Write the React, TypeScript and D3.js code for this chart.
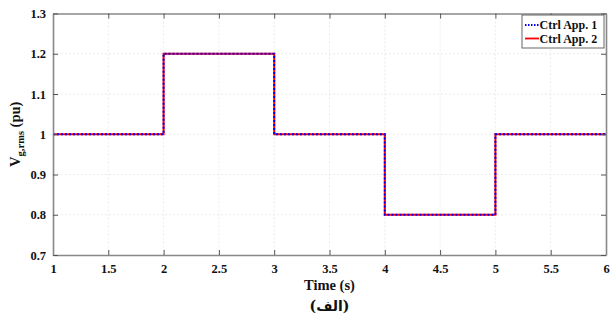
import React, { useEffect, useRef } from 'react';
import * as d3 from 'd3';

const timeValues = [1, 2, 2, 3, 3, 4, 4, 5, 5, 6];
const app1Values = [1, 1, 1.2, 1.2, 1, 1, 0.8, 0.8, 1, 1];
const app2Values = [1, 1, 1.2, 1.2, 1, 1, 0.8, 0.8, 1, 1];
const xTicks = [1, 1.5, 2, 2.5, 3, 3.5, 4, 4.5, 5, 5.5, 6];
const yTicks = [0.7, 0.8, 0.9, 1, 1.1, 1.2, 1.3];
const seriesNames = ['Ctrl App. 1', 'Ctrl App. 2'];

const App: React.FC = () => {
  const svgRef = useRef<SVGSVGElement | null>(null);

  useEffect(() => {
    if (!svgRef.current) return;
    const width = 614;
    const height = 333;
    const margin = { top: 13.5, right: 8, bottom: 78, left: 53 };
    const innerWidth = width - margin.left - margin.right;
    const innerHeight = height - margin.top - margin.bottom;

    const svg = d3.select(svgRef.current);
    svg.selectAll('*').remove();

    const x = d3.scaleLinear().domain([1, 6]).range([0, innerWidth]);
    const y = d3.scaleLinear().domain([0.7, 1.3]).range([innerHeight, 0]);

    const g = svg.append('g').attr('transform', `translate(${margin.left},${margin.top})`);
    const font = '"Liberation Serif", "Times New Roman", serif';

    // grid
    g.append('g')
      .selectAll('line')
      .data(xTicks.slice(1, -1))
      .join('line')
      .attr('x1', (d) => x(d)).attr('x2', (d) => x(d))
      .attr('y1', 0).attr('y2', innerHeight)
      .attr('stroke', '#e6e6e6').attr('stroke-width', 0.8).attr('stroke-dasharray', '2,2');
    g.append('g')
      .selectAll('line')
      .data(yTicks.slice(1, -1))
      .join('line')
      .attr('y1', (d) => y(d)).attr('y2', (d) => y(d))
      .attr('x1', 0).attr('x2', innerWidth)
      .attr('stroke', '#e6e6e6').attr('stroke-width', 0.8).attr('stroke-dasharray', '2,2');

    const data = timeValues.map((t, i) => ({ t, a: app1Values[i], b: app2Values[i] }));
    const lineA = d3.line<{ t: number; a: number; b: number }>().x((d) => x(d.t)).y((d) => y(d.a));
    const lineB = d3.line<{ t: number; a: number; b: number }>().x((d) => x(d.t)).y((d) => y(d.b));

    g.append('path').datum(data).attr('fill', 'none').attr('stroke', '#ff0000').attr('stroke-width', 2).attr('d', lineB);
    g.append('path').datum(data).attr('fill', 'none').attr('stroke', '#0000ff').attr('stroke-width', 2)
      .attr('stroke-dasharray', '2,2').attr('d', lineA);

    // axes with inward ticks
    const axisColor = '#888';
    const xb = g.append('g').attr('transform', `translate(0,${innerHeight})`)
      .call(d3.axisBottom(x).tickValues(xTicks).tickSizeInner(-5).tickSizeOuter(0).tickPadding(9).tickFormat((d) => String(d)));
    const xt = g.append('g')
      .call(d3.axisTop(x).tickValues(xTicks).tickSizeInner(-5).tickSizeOuter(0).tickFormat(() => ''));
    const yl = g.append('g')
      .call(d3.axisLeft(y).tickValues(yTicks).tickSizeInner(-5).tickSizeOuter(0).tickPadding(7).tickFormat((d) => String(d)));
    const yr = g.append('g').attr('transform', `translate(${innerWidth},0)`)
      .call(d3.axisRight(y).tickValues(yTicks).tickSizeInner(-5).tickSizeOuter(0).tickFormat(() => ''));
    [xb, xt, yl, yr].forEach((a) => {
      a.attr('font-family', font).attr('font-size', 12.5).attr('font-weight', 'bold');
      a.select('.domain').attr('stroke', axisColor).attr('stroke-width', 1.6);
      a.selectAll('.tick line').attr('stroke', '#555').attr('stroke-width', 1);
      a.selectAll('.tick text').attr('fill', '#111');
    });

    // titles
    svg.append('text')
      .attr('x', margin.left + innerWidth / 2 - 0).attr('y', 290)
      .attr('text-anchor', 'middle').style('font-family', font).style('font-size', '14.5px').style('font-weight', 'bold')
      .attr('fill', '#111').text('Time (s)');
    svg.append('text')
      .attr('x', margin.left + innerWidth / 2).attr('y', 311)
      .attr('text-anchor', 'middle').style('font-family', '"DejaVu Serif", "DejaVu Sans", serif').style('font-size', '14px').style('font-weight', 'bold')
      .attr('fill', '#111').text('(الف)');

    const yTitle = svg.append('text')
      .attr('transform', `translate(20,${margin.top + innerHeight / 2}) rotate(-90)`)
      .attr('text-anchor', 'middle').style('font-family', font).style('font-size', '14.5px').style('font-weight', 'bold')
      .attr('fill', '#111');
    yTitle.append('tspan').text('V');
    yTitle.append('tspan').attr('dy', 4).style('font-size', '10.5px').text('g,rms');
    yTitle.append('tspan').attr('dy', -4).text(' (pu)');

    // legend
    const lg = svg.append('g').attr('transform', 'translate(522,15)');
    lg.append('rect').attr('width', 82).attr('height', 33).attr('fill', '#fff').attr('stroke', '#666').attr('stroke-width', 1);
    const colors = ['#0000ff', '#ff0000'];
    seriesNames.forEach((name, i) => {
      const ly = 10 + i * 13.5;
      lg.append('line').attr('x1', 3).attr('x2', 17).attr('y1', ly).attr('y2', ly)
        .attr('stroke', colors[i]).attr('stroke-width', 1.8).attr('stroke-dasharray', i === 0 ? '1.5,1.5' : null);
      lg.append('text').attr('x', 17.5).attr('y', ly + 4).style('font-family', font).style('font-size', '12px')
        .style('font-weight', 'bold').attr('fill', '#111').text(name);
    });
  }, []);

  return <svg ref={svgRef} width={614} height={333} style={{ position: 'absolute', left: 0, top: 0, background: '#fff' }} />;
};

export default App;
